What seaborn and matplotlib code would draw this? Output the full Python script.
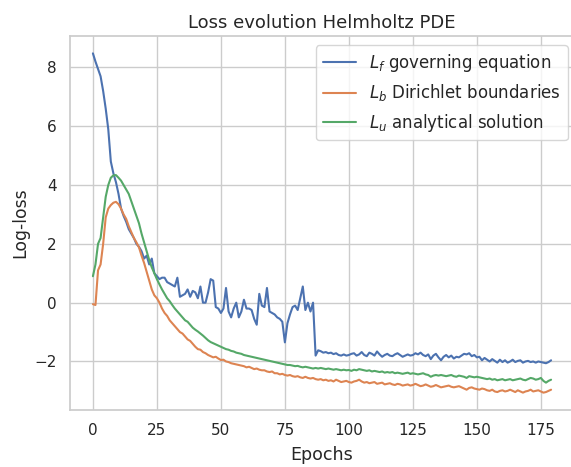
import numpy as np
import pandas as pd
import matplotlib
matplotlib.use("Agg")
import matplotlib.pyplot as plt
import seaborn as sns

loss_f = [8.48, 8.2, 7.95, 7.7, 7.2, 6.6, 5.9, 4.8, 4.4, 4.1,
          3.7, 3.2, 2.95, 2.75, 2.5, 2.35, 2.2, 2.0, 1.9, 1.75,
          1.5, 1.6, 1.3, 1.5, 1.0, 0.9, 0.8, 0.85, 0.85, 0.7,
          0.65, 0.6, 0.55, 0.85, 0.2, 0.25, 0.3, 0.45, 0.2, 0.4,
          0.35, 0.15, 0.55, 0.0, 0.0, 0.35, 0.8, 0.75, -0.15, -0.2,
          -0.35, -0.2, 0.5, -0.3, -0.5, -0.2, 0.0, -0.5, -0.3, 0.1,
          -0.2, -0.2, -0.25, -0.55, -0.75, 0.3, -0.1, -0.15, 0.5, -0.3,
          -0.35, -0.4, -0.5, -0.55, -0.65, -1.35, -0.7, -0.4, -0.15, -0.1,
          -0.25, 0.15, 0.55, -0.25, 0.0, -0.3, 0.0, -1.8, -1.62, -1.65,
          -1.70, -1.68, -1.72, -1.70, -1.75, -1.72, -1.78, -1.80, -1.76, -1.80,
          -1.78, -1.74, -1.72, -1.80, -1.76, -1.68, -1.78, -1.82, -1.70, -1.74,
          -1.80, -1.66, -1.76, -1.84, -1.78, -1.74, -1.80, -1.82, -1.76, -1.72,
          -1.78, -1.84, -1.80, -1.76, -1.80, -1.78, -1.72, -1.76, -1.70, -1.78,
          -1.82, -1.76, -1.92, -1.80, -1.74, -1.86, -1.96, -1.84, -1.78, -1.86,
          -1.80, -1.90, -1.84, -1.86, -1.80, -1.74, -1.76, -1.72, -1.82, -1.78,
          -1.86, -1.84, -1.96, -1.88, -1.94, -2.00, -1.92, -1.98, -2.04, -1.94,
          -2.02, -1.96, -2.04, -2.00, -1.94, -2.02, -1.98, -1.96, -2.04, -2.00,
          -1.98, -2.02, -2.00, -2.04, -2.00, -2.02, -2.04, -2.06, -2.02, -1.96]

loss_b = [-0.05, -0.08, 1.1, 1.3, 2.0, 2.9, 3.2, 3.32, 3.4, 3.43,
          3.35, 3.2, 3.0, 2.85, 2.6, 2.4, 2.2, 2.05, 1.88, 1.6,
          1.35, 1.05, 0.75, 0.45, 0.25, 0.15, 0.0, -0.2, -0.35, -0.45,
          -0.6, -0.7, -0.8, -0.9, -1.0, -1.05, -1.15, -1.25, -1.3, -1.4,
          -1.5, -1.58, -1.6, -1.68, -1.72, -1.78, -1.82, -1.86, -1.84, -1.9,
          -1.95, -1.94, -2.0, -2.02, -2.06, -2.08, -2.1, -2.12, -2.14, -2.16,
          -2.2, -2.18, -2.22, -2.26, -2.24, -2.28, -2.3, -2.3, -2.34, -2.36,
          -2.34, -2.4, -2.4, -2.44, -2.42, -2.46, -2.48, -2.46, -2.5, -2.52,
          -2.5, -2.54, -2.56, -2.52, -2.56, -2.58, -2.56, -2.6, -2.62, -2.6,
          -2.64, -2.62, -2.66, -2.64, -2.68, -2.62, -2.66, -2.70, -2.68, -2.66,
          -2.70, -2.72, -2.68, -2.66, -2.62, -2.68, -2.72, -2.70, -2.74, -2.72,
          -2.70, -2.76, -2.74, -2.72, -2.78, -2.76, -2.74, -2.78, -2.80, -2.76,
          -2.78, -2.82, -2.80, -2.78, -2.82, -2.80, -2.76, -2.80, -2.84, -2.82,
          -2.78, -2.82, -2.86, -2.84, -2.80, -2.84, -2.88, -2.86, -2.84, -2.82,
          -2.86, -2.88, -2.86, -2.84, -2.88, -2.92, -2.96, -2.90, -2.88, -2.92,
          -2.94, -2.96, -2.92, -2.94, -2.98, -3.00, -2.96, -3.02, -3.04, -3.00,
          -2.98, -3.02, -3.00, -2.96, -3.00, -3.04, -2.98, -3.02, -3.06, -3.02,
          -3.00, -2.96, -3.02, -3.00, -2.98, -3.02, -3.06, -3.04, -3.00, -2.96]

loss_u = [0.9, 1.3, 2.0, 2.2, 2.9, 3.6, 4.0, 4.25, 4.33, 4.34,
          4.25, 4.15, 4.0, 3.85, 3.7, 3.45, 3.2, 2.95, 2.7, 2.35,
          2.05, 1.75, 1.45, 1.2, 1.0, 0.8, 0.62, 0.45, 0.3, 0.15,
          0.05, -0.08, -0.2, -0.3, -0.4, -0.5, -0.6, -0.65, -0.75, -0.85,
          -0.92, -0.98, -1.05, -1.12, -1.2, -1.28, -1.34, -1.38, -1.42, -1.46,
          -1.5, -1.54, -1.58, -1.6, -1.64, -1.66, -1.7, -1.72, -1.74, -1.78,
          -1.8, -1.82, -1.84, -1.86, -1.88, -1.9, -1.92, -1.94, -1.96, -1.98,
          -2.0, -2.02, -2.04, -2.06, -2.08, -2.1, -2.12, -2.12, -2.14, -2.16,
          -2.15, -2.18, -2.2, -2.18, -2.2, -2.22, -2.24, -2.22, -2.24, -2.22,
          -2.24, -2.26, -2.24, -2.26, -2.28, -2.26, -2.28, -2.30, -2.28, -2.30,
          -2.29, -2.32, -2.28, -2.30, -2.26, -2.28, -2.30, -2.32, -2.30, -2.34,
          -2.32, -2.34, -2.36, -2.34, -2.38, -2.36, -2.38, -2.36, -2.40, -2.38,
          -2.40, -2.42, -2.40, -2.38, -2.42, -2.40, -2.42, -2.44, -2.42, -2.40,
          -2.44, -2.46, -2.52, -2.48, -2.46, -2.48, -2.46, -2.48, -2.50, -2.48,
          -2.46, -2.50, -2.52, -2.48, -2.50, -2.52, -2.56, -2.50, -2.52, -2.54,
          -2.52, -2.54, -2.56, -2.58, -2.60, -2.58, -2.62, -2.60, -2.64, -2.62,
          -2.60, -2.64, -2.62, -2.60, -2.64, -2.62, -2.60, -2.58, -2.62, -2.64,
          -2.60, -2.56, -2.58, -2.62, -2.60, -2.56, -2.66, -2.72, -2.66, -2.62]

labels = [r"$L_f$ governing equation",
          r"$L_b$ Dirichlet boundaries",
          r"$L_u$ analytical solution"]
epochs = np.arange(len(loss_f))

sns.set_theme(style="whitegrid")
plt.rcParams['font.family'] = ['DejaVu Sans']

df = pd.concat([
    pd.DataFrame({"Epochs": epochs, "Log-loss": loss_f, "series": labels[0]}),
    pd.DataFrame({"Epochs": epochs, "Log-loss": loss_b, "series": labels[1]}),
    pd.DataFrame({"Epochs": epochs, "Log-loss": loss_u, "series": labels[2]}),
])

fig = plt.figure(figsize=(5.71, 4.67), dpi=100)
ax = fig.add_axes([70/571, 57.4/467, 504/571, 373.2/467])
sns.lineplot(data=df, x="Epochs", y="Log-loss", hue="series", ax=ax, linewidth=1.5)
ax.set_title("Loss evolution Helmholtz PDE", fontsize=13)
ax.set_xlabel("Epochs", fontsize=12.6, labelpad=6)
ax.set_ylabel("Log-loss", fontsize=12.4)
ax.tick_params(labelsize=11)
ax.set_xticks([0, 25, 50, 75, 100, 125, 150, 175])
ax.set_yticks([-2, 0, 2, 4, 6, 8])
leg = ax.legend(title=None, loc="upper left", fontsize=12,
                bbox_to_anchor=(246/504, 1 - 9/373.2), borderaxespad=0)
fig.savefig("out.png", dpi=100)
